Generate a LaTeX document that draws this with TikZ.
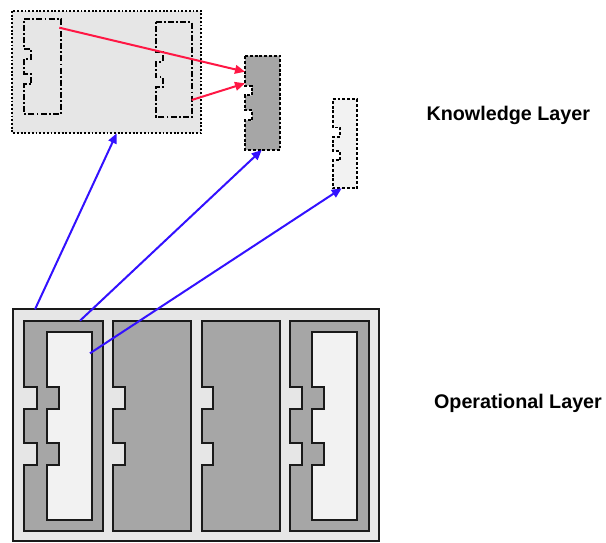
\documentclass[tikz,border=0pt]{standalone}
\usepackage{fontspec}
\setmainfont{Liberation Sans}
\usetikzlibrary{arrows.meta}
\definecolor{lightfill}{HTML}{E6E6E6}
\definecolor{darkfill}{HTML}{A6A6A6}
\definecolor{paperfill}{HTML}{F2F2F2}
\definecolor{linkred}{HTML}{FF1744}
\definecolor{linkblue}{HTML}{3311FF}
\definecolor{edge}{HTML}{1A1A1A}
% x1, y1(top), x2, y2(bottom), notch depth, notch1 top, notch1 bottom, notch2 top, notch2 bottom
\newcommand\notchedpath[9]{(#1,#2) -- (#3,#2) -- (#3,#4) -- (#1,#4) -- (#1,#9) -- (#1+#5,#9) -- (#1+#5,#8) -- (#1,#8) -- (#1,#7) -- (#1+#5,#7) -- (#1+#5,#6) -- (#1,#6) -- cycle}
\tikzset{
  opbox/.style={draw=edge, line width=1.5pt, line join=miter},
  dotbox/.style={draw=black, line width=1.4pt, dash pattern=on 1.4pt off 1.4pt},
  densebox/.style={draw=black, line width=1.4pt, dash pattern=on 2.2pt off 1.4pt},
  dashdotbox/.style={draw=black, line width=1.4pt, dash pattern=on 4.5pt off 1.6pt on 1.4pt off 1.6pt},
  redlink/.style={draw=linkred, line width=1.5pt, -{Triangle[length=7.5pt,width=6.5pt]}},
  bluelink/.style={draw=linkblue, line width=1.5pt, -{Triangle[length=7.5pt,width=6.5pt]}},
  layerlabel/.style={font=\bfseries\fontsize{14.8}{17}\selectfont, inner sep=0pt}
}
\begin{document}
\begin{tikzpicture}[x=0.75pt,y=-0.75pt]
\useasboundingbox (0,0) rectangle (606,542);

% ---------- Operational layer ----------
\path[opbox, fill=lightfill] (13,309) rectangle (379,541);
\path[opbox, fill=darkfill] \notchedpath{24.3}{320.7}{102.7}{531}{12.4}{387.3}{409.3}{442.7}{464.7};
\path[opbox, fill=paperfill] \notchedpath{47.3}{331.7}{91.7}{520}{11.4}{387.3}{409.3}{442.7}{464.7};
\path[opbox, fill=darkfill] \notchedpath{113.3}{320.7}{191.3}{531}{11.7}{387.3}{409.3}{442.7}{464.7};
\path[opbox, fill=darkfill] \notchedpath{202}{320.7}{279.7}{531}{11.3}{387.3}{409.3}{442.7}{464.7};
\path[opbox, fill=darkfill] \notchedpath{290}{320.7}{369}{531}{12}{387.3}{409.3}{442.7}{464.7};
\path[opbox, fill=paperfill] \notchedpath{312.3}{331.7}{357.3}{520}{11.7}{387.3}{409.3}{442.7}{464.7};

% ---------- Knowledge layer ----------
\path[dotbox, fill=lightfill] (12.3,11) rectangle (201.3,133.3);
\path[dashdotbox] \notchedpath{24.3}{19}{60.7}{114}{7}{49}{59}{74}{84};
\path[dashdotbox] \notchedpath{155.7}{22.3}{191.7}{116.7}{7}{52}{62}{77}{87};
\path[densebox, fill=darkfill] \notchedpath{245}{55.7}{280}{150}{7}{85.6}{95.4}{110.4}{120.3};
\path[densebox, fill=paperfill] \notchedpath{332.7}{99.3}{356.7}{188.3}{7}{127.5}{136.8}{150.9}{160.3};

% ---------- anchor points ----------
\coordinate (opOuterTop) at (35,309.3);
\coordinate (opBlockTop) at (80,320.7);
\coordinate (opInnerSide) at (90,353.3);
\coordinate (kBigBottom) at (116.7,133.3);
\coordinate (kDarkBottom) at (261.7,150);
\coordinate (kLightBottom) at (341.7,188.3);
\coordinate (kLeftStart) at (59.3,27.7);
\coordinate (kRightStart) at (191.7,100);
\coordinate (kDarkTip1) at (245,71.7);
\coordinate (kDarkTip2) at (245,83.3);

% ---------- connectors ----------
\draw[bluelink] (opOuterTop) -- (kBigBottom);
\draw[bluelink] (opBlockTop) -- (kDarkBottom);
\draw[bluelink] (opInnerSide) -- (kLightBottom);
\draw[redlink] (kLeftStart) -- (kDarkTip1);
\draw[redlink] (kRightStart) -- (kDarkTip2);

% ---------- labels ----------
\node[layerlabel] (klabel) at (508.3,115) {Knowledge Layer};
\node[layerlabel] (olabel) at (518,403.3) {Operational Layer};
\end{tikzpicture}
\end{document}
